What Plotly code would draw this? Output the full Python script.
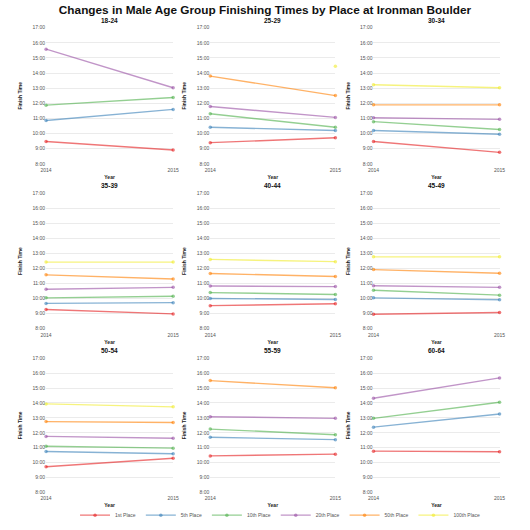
import plotly.graph_objects as go
from plotly.subplots import make_subplots

age_groups = ["18-24", "25-29", "30-34", "35-39", "40-44", "45-49", "50-54", "55-59", "60-64"]
years = [2014, 2015]
places = ["1st Place", "5th Place", "10th Place", "20th Place", "50th Place", "100th Place"]
colors = ["rgba(228,26,28,0.6)", "rgba(55,126,184,0.6)", "rgba(77,175,74,0.6)",
          "rgba(152,78,163,0.6)", "rgba(255,127,0,0.6)", "rgba(240,235,40,0.6)"]

# finish times in hours, per place, one value per age group
p1_2014 = [9.48, 9.40, 9.48, 9.27, 9.53, 8.96, 9.72, 10.45, 10.77]
p1_2015 = [8.92, 9.72, 8.76, 8.98, 9.66, 9.07, 10.29, 10.57, 10.73]
p5_2014 = [10.86, 10.42, 10.20, 9.68, 10.01, 10.05, 10.75, 11.70, 12.38]
p5_2015 = [11.60, 10.20, 9.96, 9.73, 9.94, 9.92, 10.60, 11.54, 13.26]
p10_2014 = [11.88, 11.31, 10.79, 10.05, 10.40, 10.56, 11.10, 12.25, 12.97]
p10_2015 = [12.38, 10.42, 10.27, 10.16, 10.27, 10.23, 10.97, 11.87, 14.05]
p20_2014 = [15.58, 11.79, 11.05, 10.62, 10.84, 10.86, 11.76, 13.08, 14.32]
p20_2015 = [13.03, 11.07, 10.94, 10.75, 10.80, 10.75, 11.63, 12.97, 15.68]
p50_2014 = [None, 13.80, 11.90, 11.58, 11.67, 11.93, 12.75, 15.50, None]
p50_2015 = [None, 12.51, 11.90, 11.30, 11.47, 11.69, 12.69, 15.02, None]
p100_2014 = [None, None, 13.23, 12.43, 12.61, 12.78, 13.94, None, None]
p100_2015 = [None, 14.45, 13.03, 12.43, 12.46, 12.78, 13.74, None, None]

series_2014 = [p1_2014, p5_2014, p10_2014, p20_2014, p50_2014, p100_2014]
series_2015 = [p1_2015, p5_2015, p10_2015, p20_2015, p50_2015, p100_2015]

y_ticks = list(range(8, 18))
y_tick_labels = [f"{h}:00" for h in y_ticks]

W = H = 530
col_px = [(41, 171), (209, 337), (376, 505)]
row_px = [(25, 163), (193, 330), (360, 496)]

fig = make_subplots(rows=3, cols=3)

for g, grp in enumerate(age_groups):
    r, c = g // 3 + 1, g % 3 + 1
    for p, place in enumerate(places):
        fig.add_trace(go.Scatter(
            x=years, y=[series_2014[p][g], series_2015[p][g]],
            mode="lines+markers", name=place, legendgroup=place,
            showlegend=(g == 0 and p < 4) or (g == 1 and p >= 4),
            line=dict(color=colors[p], width=1.4),
            marker=dict(color=colors[p], size=3.5),
            cliponaxis=False, connectgaps=False,
        ), row=r, col=c)

FONT = "Liberation Sans, Arial"
axis_font = dict(family=FONT, size=5, color="#555")
for g, grp in enumerate(age_groups):
    r, c = g // 3, g % 3
    idx = g + 1
    xs = "" if idx == 1 else str(idx)
    x0, x1 = col_px[c]
    y0, y1 = row_px[r]
    fig.layout["xaxis" + xs].update(
        domain=[x0 / W, x1 / W], range=[2014, 2015], tickvals=years,
        ticktext=[str(y) for y in years], tickfont=axis_font,
        showgrid=True, gridcolor="#ebebeb", gridwidth=1, zeroline=False,
        ticks="", ticklabelstandoff=2,
        title=dict(text="<b>Year</b>", font=dict(family=FONT, size=5, color="#222"), standoff=3),
    )
    fig.layout["yaxis" + xs].update(
        domain=[1 - y1 / H, 1 - y0 / H], range=[8, 17], tickvals=y_ticks,
        ticktext=y_tick_labels, tickfont=axis_font,
        showgrid=True, gridcolor="#ebebeb", gridwidth=1, zeroline=False,
        ticks="",
        title=dict(text="<b>Finish Time</b>", font=dict(family=FONT, size=5, color="#222"), standoff=9),
    )
    fig.add_annotation(
        text=f"<b>{grp}</b>", x=(x0 + x1) / 2 / W, y=1 - (y0 - 2) / H,
        xref="paper", yref="paper", xanchor="center", yanchor="bottom",
        showarrow=False, font=dict(family=FONT, size=6.5, color="#111"),
    )

fig.update_layout(
    width=W, height=H,
    margin=dict(l=0, r=0, t=0, b=0),
    paper_bgcolor="white", plot_bgcolor="white",
    title=dict(text="<b>Changes in Male Age Group Finishing Times by Place at Ironman Boulder</b>",
               x=0.5, xanchor="center", y=1 - 10 / H, yanchor="middle",
               font=dict(family=FONT, size=11.8, color="#111")),
    legend=dict(orientation="h", x=0.53, xanchor="center", y=1 - 519 / H, yanchor="middle",
                font=dict(family=FONT, size=5, color="#555"),
                traceorder="normal", itemwidth=30, tracegroupgap=0),
    showlegend=True,
)

fig.write_html("out.html", config={"displayModeBar": False},
               post_script="document.body.style.margin='0';document.body.style.overflow='hidden';")
